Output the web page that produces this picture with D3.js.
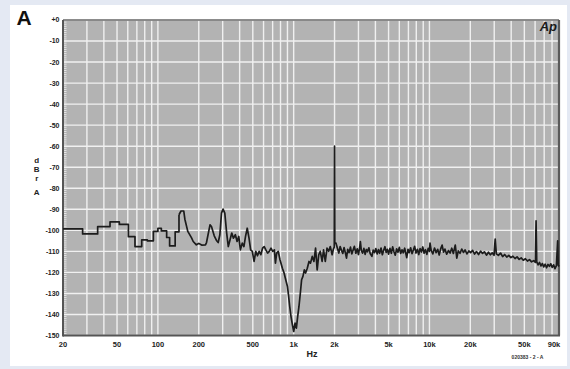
<!DOCTYPE html>
<html>
<head>
<meta charset="utf-8">
<script src="https://cdn.jsdelivr.net/npm/d3@7"></script>
<style>
  html, body { margin: 0; padding: 0; background: #e4e9f3; }
  svg { display: block; }
  text { font-family: "Liberation Sans", Arial, sans-serif; }
</style>
</head>
<body>
<div id="chart"></div>
<script>
// low band: stepped part of the spectrum (curveStepAfter)
const stepFreq = [20, 27.9, 36, 44.4, 52, 60.6, 67.8, 76, 83.6, 92.6, 100, 106, 116, 122, 134, 143];
const stepDb = [-99.3, -101.7, -98.2, -96, -97.2, -103, -107.7, -104.5, -105, -100.5, -99.0, -100.3, -103.4, -107.4, -100.7, -92.6];

// mid band: 143 Hz .. 1.45 kHz, notch around 1 kHz
const midFreq = [143, 148, 155, 158, 166, 177, 182, 192, 200, 210, 224, 228, 242, 248, 260, 270, 278, 286, 294, 302, 311, 321, 330, 340, 350, 360, 372, 383, 394, 405, 418, 430, 442, 455, 469, 482, 496, 511, 526, 541, 557, 573, 590, 607, 624, 643, 661, 681, 700, 721, 734, 750, 770, 793, 826, 850, 874, 900, 915, 935, 956, 979, 1001, 1024, 1047, 1070, 1094, 1120, 1144, 1170, 1198, 1224, 1260, 1297, 1330, 1370, 1410, 1450];
const midDb = [-92.6, -90.8, -90.8, -94.7, -100.5, -103.6, -105.3, -106.9, -106.2, -107, -106.9, -105.8, -97.4, -98.2, -102.6, -104.8, -105.8, -102.1, -91.8, -89.9, -91.8, -101.3, -107.7, -104.5, -101.3, -103.7, -102.1, -105.3, -102.9, -109.3, -106.1, -107.7, -102.9, -99, -103.7, -109.3, -110, -114.8, -110, -112.1, -110, -111.6, -108.5, -107.7, -109.3, -110.8, -110, -108.5, -110, -109.3, -115.6, -110.8, -110, -114, -118, -120.3, -123.5, -126.7, -130.6, -136.2, -141, -144.9, -148.1, -144.1, -146.5, -141, -136.2, -129.8, -123.5, -121.9, -118.8, -120.3, -118, -114.8, -115.6, -112.4, -114.8, -108.5];

// high band: 1.45 kHz .. 90 kHz, noise floor with 2 kHz tone and spurs
const highFreq = [1450, 1490, 1530, 1570, 1620, 1660, 1710, 1760, 1810, 1860, 1920, 1960, 1990, 2000, 2010, 2050, 2100, 2150, 2200, 2250, 2300, 2350, 2400, 2450, 2500, 2560, 2620, 2680, 2740, 2800, 2870, 2940, 3000, 3060, 3100, 3150, 3220, 3290, 3360, 3430, 3500, 3580, 3660, 3770, 3850, 3940, 4030, 4120, 4210, 4300, 4400, 4500, 4600, 4700, 4800, 4900, 5000, 5120, 5240, 5360, 5480, 5600, 5730, 5860, 6000, 6140, 6280, 6420, 6570, 6720, 6800, 6950, 7100, 7270, 7440, 7610, 7780, 7960, 8150, 8340, 8530, 8730, 8930, 9140, 9350, 9570, 9790, 10000, 10100, 10300, 10600, 10900, 11200, 11500, 11800, 12100, 12400, 12700, 13000, 13400, 13800, 14200, 14600, 15000, 15500, 15900, 16300, 16800, 17300, 17800, 18300, 18900, 19500, 20100, 20800, 21500, 22200, 23000, 23800, 24600, 25400, 26300, 27200, 28100, 29000, 29900, 30500, 31100, 32200, 33400, 34600, 35800, 37100, 38400, 39800, 41200, 42700, 44200, 45800, 47400, 49100, 50900, 52700, 54600, 56500, 58500, 60300, 61000, 61700, 63200, 64700, 66300, 67900, 69500, 71200, 72900, 74700, 76500, 78300, 80200, 82100, 84100, 86100, 88000, 88800, 90000];
const highDb = [-108.5, -118.8, -111.6, -110, -114.8, -109.3, -114.8, -108.5, -110, -107.7, -111.6, -109, -108, -60, -106, -106.1, -108.5, -110.8, -107.7, -109.5, -111, -108.2, -110.5, -113.2, -109, -110.6, -108, -111.2, -109.4, -107.6, -110.9, -108.8, -111.5, -108.4, -105.3, -109.6, -110.8, -108.6, -111.4, -109.1, -110.2, -108.3, -111, -112.4, -109.4, -110.6, -108.7, -111.2, -109.2, -110.9, -108.4, -111.6, -109.5, -107.8, -110.5, -109, -111.3, -108.6, -110.9, -107.9, -110.2, -111.8, -108.8, -110.4, -108.1, -111, -109.3, -110.7, -108.5, -111.4, -113, -109, -110.6, -108.3, -111.1, -109.4, -107.6, -110.8, -109, -111.5, -108.7, -110.3, -107.9, -110.9, -109.2, -111.4, -108.6, -110, -106.1, -109.5, -111.2, -108.4, -110.6, -109, -111.7, -108.8, -107, -110.4, -108.9, -111.3, -109.6, -110.8, -108.5, -111, -107, -113.2, -109.8, -110.9, -108.9, -110.5, -109.3, -111.2, -109.8, -110.6, -109.5, -111.3, -110.1, -111.5, -109.9, -111, -110.2, -111.8, -110.4, -111.6, -110.7, -111.9, -104.2, -111.2, -111.9, -110.8, -112.5, -111.5, -112.7, -111.9, -113, -112.3, -113.4, -112.6, -113.8, -113.1, -114.2, -113.5, -114.6, -113.9, -115, -114.4, -115.2, -95.5, -115, -116.4, -115.3, -116.9, -115.8, -117.4, -116.1, -117.8, -116.2, -117.1, -115.9, -117.6, -116.4, -118.2, -116.8, -105, -116.5, -117.2];

const yTicks = [0, -10, -20, -30, -40, -50, -60, -70, -80, -90, -100, -110, -120, -130, -140, -150];
const xLabelValues = [20, 50, 100, 200, 500, 1000, 2000, 5000, 10000, 20000, 50000, 90000];
const xLabelText = ['20', '50', '100', '200', '500', '1k', '2k', '5k', '10k', '20k', '50k', '90k'];

const width = 570;
const height = 369;
const plot = {left: 63, right: 559, top: 20, bottom: 335.5};

const svg = d3.select('#chart')
    .append('svg')
    .attr('width', width)
    .attr('height', height);

// white card
svg.append('rect')
    .attr('x', 10).attr('y', 5)
    .attr('width', 557).attr('height', 361)
    .attr('fill', '#fff');

const x = d3.scaleLog().domain([20, 90000]).range([plot.left, plot.right]);
const y = d3.scaleLinear().domain([0, -150]).range([plot.top, plot.bottom]);

svg.append('rect')
    .attr('x', plot.left).attr('y', plot.top)
    .attr('width', plot.right - plot.left).attr('height', plot.bottom - plot.top)
    .attr('fill', '#b3b3b3');

// grid
svg.append('g')
    .selectAll('line')
    .data(x.ticks())
    .join('line')
    .attr('x1', d => x(d)).attr('x2', d => x(d))
    .attr('y1', plot.top).attr('y2', plot.bottom)
    .attr('stroke', '#f0f0f0')
    .attr('stroke-width', 1.4);

svg.append('g')
    .selectAll('line')
    .data(yTicks)
    .join('line')
    .attr('x1', plot.left).attr('x2', plot.right)
    .attr('y1', d => y(d)).attr('y2', d => y(d))
    .attr('stroke', '#f0f0f0')
    .attr('stroke-width', 1.4);

// small ruler ticks on the left edge, every 1 dB
svg.append('g')
    .selectAll('line')
    .data(d3.range(0, -151, -1))
    .join('line')
    .attr('x1', plot.left + 1).attr('x2', plot.left + 3.5)
    .attr('y1', d => y(d)).attr('y2', d => y(d))
    .attr('stroke', '#f4f4f4')
    .attr('stroke-width', 0.8);

// frame
svg.append('line')
    .attr('x1', plot.left).attr('x2', plot.right)
    .attr('y1', plot.top).attr('y2', plot.top)
    .attr('stroke', '#6a6a6a').attr('stroke-width', 1.5);
svg.append('line')
    .attr('x1', plot.right).attr('x2', plot.right)
    .attr('y1', plot.top).attr('y2', plot.bottom)
    .attr('stroke', '#5a5a5a').attr('stroke-width', 2.2);
svg.append('line')
    .attr('x1', plot.left).attr('x2', plot.left)
    .attr('y1', plot.top).attr('y2', plot.bottom + 1)
    .attr('stroke', '#555').attr('stroke-width', 2);
svg.append('line')
    .attr('x1', plot.left).attr('x2', plot.right + 1)
    .attr('y1', plot.bottom).attr('y2', plot.bottom)
    .attr('stroke', '#555').attr('stroke-width', 2);

// trace
const stepData = stepFreq.map((f, i) => [f, stepDb[i]]);
const restData = midFreq.map((f, i) => [f, midDb[i]])
    .concat(highFreq.slice(1).map((f, i) => [f, highDb[i + 1]]));

const stepLine = d3.line().x(d => x(d[0])).y(d => y(d[1])).curve(d3.curveStepAfter);
const line = d3.line().x(d => x(d[0])).y(d => y(d[1]));

const trace = svg.append('g')
    .attr('fill', 'none')
    .attr('stroke', '#1c1c1c')
    .attr('stroke-width', 1.7)
    .attr('stroke-linejoin', 'round');
trace.append('path').attr('d', stepLine(stepData));
trace.append('path').attr('d', line(restData));

// y tick labels
svg.append('g')
    .selectAll('text')
    .data(yTicks)
    .join('text')
    .attr('x', 59.5)
    .attr('y', d => y(d))
    .attr('dy', '0.35em')
    .attr('text-anchor', 'end')
    .attr('font-size', 7)
    .attr('font-weight', 'bold')
    .attr('fill', '#222')
    .text(d => d === 0 ? '+0' : d);

// x tick labels
svg.append('g')
    .selectAll('text')
    .data(xLabelValues)
    .join('text')
    .attr('x', (d, i) => i === xLabelValues.length - 1 ? x(d) - 5 : x(d))
    .attr('y', 346.5)
    .attr('text-anchor', 'middle')
    .attr('font-size', 7.5)
    .attr('font-weight', 'bold')
    .attr('fill', '#222')
    .text((d, i) => xLabelText[i]);

// axis titles
svg.append('text')
    .attr('x', 312).attr('y', 356.5)
    .attr('text-anchor', 'middle')
    .attr('font-size', 9)
    .attr('font-weight', 'bold')
    .attr('fill', '#222')
    .text('Hz');

const yTitle = [['d', 163], ['B', 172.3], ['r', 180.5], ['A', 195]];
svg.append('g')
    .selectAll('text')
    .data(yTitle)
    .join('text')
    .attr('x', 36.7)
    .attr('y', d => d[1])
    .attr('text-anchor', 'middle')
    .attr('font-size', 8)
    .attr('font-weight', 'bold')
    .attr('fill', '#222')
    .text(d => d[0]);

// panel letter, logo, figure number
svg.append('text')
    .attr('x', 16.5).attr('y', 25)
    .attr('font-family', '"DejaVu Sans", sans-serif')
    .attr('font-size', 21)
    .attr('font-weight', 'bold')
    .attr('fill', '#111')
    .text('A');

svg.append('text')
    .attr('x', 557).attr('y', 31)
    .attr('text-anchor', 'end')
    .attr('font-size', 13)
    .attr('font-style', 'italic')
    .attr('font-weight', 'bold')
    .attr('fill', '#1a1a1a')
    .text('Ap');

svg.append('text')
    .attr('x', 527.5).attr('y', 358.5)
    .attr('text-anchor', 'middle')
    .attr('font-size', 5)
    .attr('font-weight', 'bold')
    .attr('fill', '#333')
    .text('020383 - 2 - A');
</script>
</body>
</html>
